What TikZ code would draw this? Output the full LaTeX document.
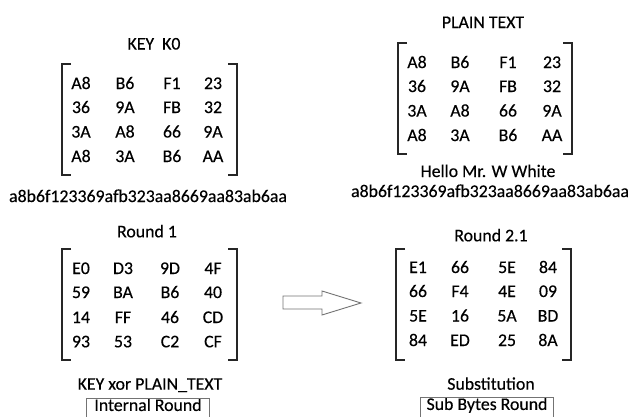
\documentclass[tikz,border=0pt]{standalone}
\usepackage{fontspec}
\setmainfont[FakeBold=0.35]{Carlito}

\tikzset{
  lbl/.style={font=\fontsize{17.8}{21}\selectfont, inner sep=0pt, anchor=base, text=black},
  cell/.style={lbl},
  brk/.style={line width=2.6pt, black!85, line cap=butt},
  tagtext/.style={font=\fontsize{17.8}{21}\selectfont, inner sep=0pt,
    text height=11.5pt, text depth=0pt, anchor=north},
  tagline/.style={draw=black!55, line width=0.9pt},
  blockarrow/.style={draw=black!55, line width=0.9pt, fill=white, line join=miter}
}

% #1 prefix for node names, #2 column x positions, #3 rows as baseline/{cells}
\newcommand\statecells[3]{%
  \foreach \yy/\row [count=\r] in {#3} {
    \foreach \txt [count=\c] in \row {
      \pgfmathsetmacro\xx{{#2}[\c-1]}
      \node[cell] (#1-\r-\c) at (\xx,\yy) {\txt};
    }
  }%
}

% square brackets around a state: #1 left x, #2 right x, #3 top y, #4 bottom y
\newcommand\statebrackets[4]{%
  \draw[brk] (#1+9,#3) -- (#1,#3) -- (#1,#4) -- (#1+9,#4);
  \draw[brk] (#2-9,#3) -- (#2,#3) -- (#2,#4) -- (#2-9,#4);
}

% open frame round a caption that runs off the lower edge
\newcommand\tagframe[1]{%
  \draw[tagline] ([yshift=-8pt]#1.south west) -- (#1.north west)
    -- (#1.north east) -- ([yshift=-8pt]#1.south east);
}

\begin{document}
\begin{tikzpicture}[x=1pt,y=-1pt]
  \useasboundingbox (0,0) rectangle (630,416);
  \clip (0,0) rectangle (630,416);

  % key state
  \node[lbl] (keytitle) at (154,49.5) {KEY\hspace{0.45em}K0};
  \statebrackets{62}{237}{64}{175}
  \statecells{key}{81,125,172,213}{89/{A8,B6,F1,23}, 113/{36,9A,FB,32}, 137.5/{3A,A8,66,9A}, 162/{A8,3A,B6,AA}}
  \node[lbl] (keyhex) at (148,202) {a8b6f123369afb323aa8669aa83ab6aa};

  % plain text state
  \node[lbl] (pttitle) at (483,28) {PLAIN TEXT};
  \statebrackets{398}{572}{43}{154}
  \statecells{pt}{417,460,508,552}{68/{A8,B6,F1,23}, 92/{36,9A,FB,32}, 116.5/{3A,A8,66,9A}, 141/{A8,3A,B6,AA}}
  \node[lbl] (ptmsg) at (488,177) {Hello Mr. W White};
  \node[lbl] (pthex) at (490,197) {a8b6f123369afb323aa8669aa83ab6aa};

  % round 1 state
  \node[lbl] (r1title) at (147,237.3) {Round 1};
  \statebrackets{62}{237}{249}{360}
  \statecells{ra}{81,123,170,213}{274/{E0,D3,9D,4F}, 298/{59,BA,B6,40}, 323/{14,FF,46,CD}, 347.3/{93,53,C2,CF}}
  \node[lbl] (r1op) at (150,389.7) {KEY xor PLAIN\_TEXT};
  \node[tagtext, minimum width=122pt, minimum height=14pt] (r1tag) at (148,398) {Internal Round};
  \tagframe{r1tag}

  % round 2.1 state
  \node[lbl] (r2title) at (491,241.3) {Round 2.1};
  \statebrackets{396}{571}{249}{360}
  \statecells{rb}{418,460,507,548}{273/{E1,66,5E,84}, 297/{66,F4,4E,09}, 321.5/{5E,16,5A,BD}, 346/{84,ED,25,8A}}
  \node[lbl] (r2op) at (491,389.7) {Substitution};
  \node[tagtext, minimum width=132pt, minimum height=14pt] (r2tag) at (487,397) {Sub Bytes Round};
  \tagframe{r2tag}

  % block arrow from round 1 to round 2.1
  \draw[blockarrow] (283,296) -- (322,296) -- (322,291) -- (361,303)
    -- (322,315) -- (322,309) -- (283,309) -- cycle;
\end{tikzpicture}
\end{document}
